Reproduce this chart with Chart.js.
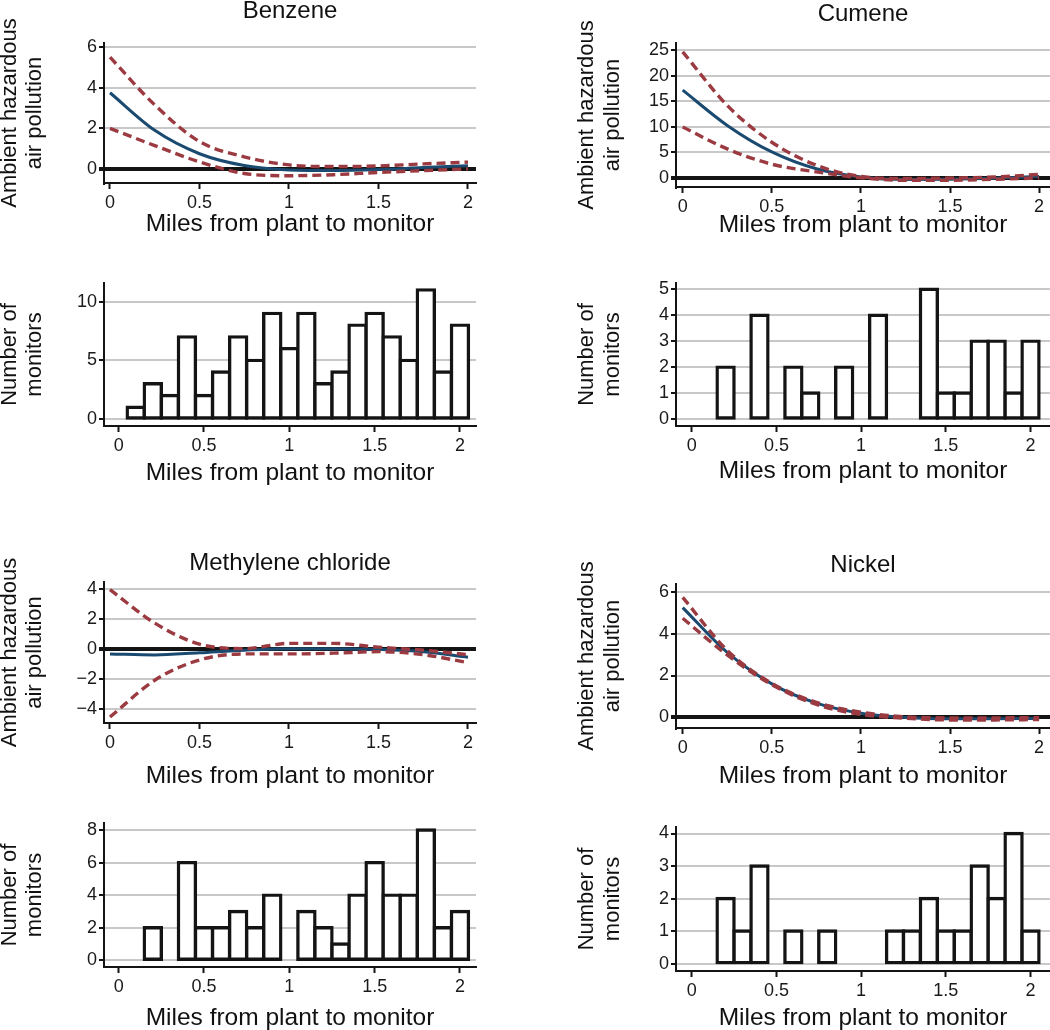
<!DOCTYPE html>
<html>
<head>
<meta charset="utf-8">
<script src="https://cdn.jsdelivr.net/npm/chart.js@4.4.1/dist/chart.umd.min.js"></script>
<style>
  body { margin: 0; background: #fff; }
  #page { position: relative; width: 1050px; height: 1030px; overflow: hidden; background: #fff; }
  #page canvas { position: absolute; }
</style>
</head>
<body>
<div id="page">
  <canvas id="benzeneFit"></canvas>
  <canvas id="benzeneHist"></canvas>
  <canvas id="cumeneFit"></canvas>
  <canvas id="cumeneHist"></canvas>
  <canvas id="methyleneFit"></canvas>
  <canvas id="methyleneHist"></canvas>
  <canvas id="nickelFit"></canvas>
  <canvas id="nickelHist"></canvas>
</div>
<script>
// fitted pollution curves, every quarter mile
const fitMiles = [0, 0.25, 0.5, 0.75, 1, 1.25, 1.5, 1.75, 2];

const benzeneEstimate = [3.75, 1.9, 0.75, 0.17, -0.05, -0.08, -0.03, 0.07, 0.16];
const benzeneUpper = [5.5, 3.15, 1.35, 0.6, 0.2, 0.12, 0.15, 0.25, 0.34];
const benzeneLower = [2.0, 1.15, 0.35, -0.22, -0.33, -0.28, -0.17, -0.08, 0.0];

const cumeneEstimate = [17.2, 10.3, 5.1, 1.8, 0.2, -0.3, -0.25, -0.05, 0.3];
const cumeneUpper = [24.7, 14.2, 7.0, 2.5, 0.3, -0.1, 0.0, 0.2, 0.7];
const cumeneLower = [10.0, 5.7, 2.7, 1.2, 0.05, -0.45, -0.45, -0.25, 0.0];

const methyleneEstimate = [-0.35, -0.42, -0.27, -0.1, 0.0, 0.0, -0.05, -0.2, -0.57];
const methyleneUpper = [3.93, 1.7, 0.3, 0.0, 0.35, 0.35, 0.1, -0.1, -0.4];
const methyleneLower = [-4.55, -2.1, -0.75, -0.35, -0.35, -0.3, -0.2, -0.4, -0.93];

const nickelEstimate = [5.24, 3.1, 1.6, 0.68, 0.2, 0.0, -0.06, -0.06, -0.05];
const nickelUpper = [5.73, 3.2, 1.63, 0.72, 0.25, 0.03, -0.02, -0.02, -0.01];
const nickelLower = [4.73, 2.98, 1.56, 0.62, 0.14, -0.04, -0.12, -0.12, -0.1];

// monitor counts per 0.1 mile bin
const binMiles = [0.1, 0.2, 0.3, 0.4, 0.5, 0.6, 0.7, 0.8, 0.9, 1.0,
                  1.1, 1.2, 1.3, 1.4, 1.5, 1.6, 1.7, 1.8, 1.9, 2.0];
const benzeneCounts = [1, 3, 2, 7, 2, 4, 7, 5, 9, 6, 9, 3, 4, 8, 9, 7, 5, 11, 4, 8];
const cumeneCounts = [0, 2, 0, 4, 0, 2, 1, 0, 2, 0, 4, 0, 0, 5, 1, 1, 3, 3, 1, 3];
const methyleneCounts = [0, 2, 0, 6, 2, 2, 3, 2, 4, 0, 3, 2, 1, 4, 6, 4, 4, 8, 2, 3];
const nickelCounts = [0, 2, 1, 3, 0, 1, 0, 1, 0, 0, 0, 1, 1, 2, 1, 1, 3, 2, 4, 1];

// tick labels
const milesTicks = [0, 0.5, 1, 1.5, 2];
const benzeneTicks = [0, 2, 4, 6];
const cumeneTicks = [0, 5, 10, 15, 20, 25];
const methyleneTicks = [-4, -2, 0, 2, 4];
const nickelTicks = [0, 2, 4, 6];
const benzeneCountTicks = [0, 5, 10];
const cumeneCountTicks = [0, 1, 2, 3, 4, 5];
const methyleneCountTicks = [0, 2, 4, 6, 8];
const nickelCountTicks = [0, 1, 2, 3, 4];

const family = "'Liberation Sans', Arial, Helvetica, sans-serif";
Chart.defaults.font.family = family;
Chart.defaults.color = '#1a1a1a';
Chart.defaults.animation = false;

const ink = '#141414';
const gridGray = '#c8c8c8';
const fitBlue = '#1b4a70';
const bandRed = '#9b3b41';

const titleSize = 24;
const xTitleSize = 24.5;
const yTitleSize = 22;
const tickSize = 18;

const columns = {
  left: { canvasLeft: 0, axisLeft: 104, areaRight: 476, canvasRight: 490, yTitlePad: -3 },
  right: { canvasLeft: 572, axisLeft: 676, areaRight: 1050, canvasRight: 1050, yTitlePad: 2.6 }
};

function fixedTicks(values) {
  return function (scale) {
    scale.ticks = values.map(v => ({ value: v }));
  };
}

function minusSign(v) {
  return String(v).replace('-', '\u2212');
}

function drawPanel(id, box, opts) {
  const col = columns[box.col];
  const canvasTop = Math.round(box.titleMid ? box.titleMid - titleSize / 2 - 2 : box.areaTop - 15);
  const canvasBottom = Math.round(box.xTitleMid + xTitleSize / 2 + 2);
  const width = col.canvasRight - col.canvasLeft;
  const height = canvasBottom - canvasTop;
  const xAxisHeight = box.xTitleMid + xTitleSize / 2 - box.areaBottom;

  const canvas = document.getElementById(id);
  canvas.style.left = col.canvasLeft + 'px';
  canvas.style.top = canvasTop + 'px';
  canvas.width = width;
  canvas.height = height;
  canvas.style.width = width + 'px';
  canvas.style.height = height + 'px';

  let titlePadTop = 0, titlePadBottom = 0, layoutTop = 0;
  if (opts.title) {
    titlePadTop = box.titleMid - titleSize / 2 - canvasTop;
    titlePadBottom = box.areaTop - canvasTop - titlePadTop - titleSize;
  } else {
    layoutTop = box.areaTop - canvasTop;
  }

  const isZero = c => opts.zeroLine && c.tick && c.tick.value === 0;

  new Chart(canvas, {
    type: opts.type,
    data: { datasets: opts.datasets },
    options: {
      responsive: false,
      maintainAspectRatio: false,
      layout: {
        padding: {
          left: 0,
          right: col.canvasRight - col.areaRight,
          top: layoutTop,
          bottom: canvasBottom - (box.areaBottom + xAxisHeight)
        }
      },
      plugins: {
        legend: { display: false },
        tooltip: { enabled: false },
        title: {
          display: !!opts.title,
          text: opts.title || '',
          fullSize: false,
          color: '#111',
          font: { size: titleSize, weight: 'normal', lineHeight: 1 },
          padding: { top: titlePadTop, bottom: titlePadBottom }
        }
      },
      scales: {
        x: {
          type: 'linear',
          min: opts.xMin,
          max: opts.xMax,
          offset: false,
          afterBuildTicks: fixedTicks(milesTicks),
          afterFit: s => { s.height = xAxisHeight; },
          grid: {
            offset: false,
            drawOnChartArea: false,
            drawTicks: true,
            tickLength: 6,
            tickColor: ink,
            tickWidth: 2
          },
          border: { display: true, color: ink, width: 2 },
          ticks: {
            padding: 3,
            color: '#1a1a1a',
            font: { size: tickSize },
            maxRotation: 0,
            callback: minusSign
          },
          title: {
            display: true,
            text: 'Miles from plant to monitor',
            color: '#111',
            font: { size: xTitleSize, lineHeight: 1 },
            padding: { top: 0, bottom: 0 }
          }
        },
        y: {
          type: 'linear',
          min: opts.yMin,
          max: opts.yMax,
          afterBuildTicks: fixedTicks(opts.yTicks),
          afterFit: s => { s.width = col.axisLeft - col.canvasLeft; },
          grid: {
            drawTicks: true,
            tickLength: 5,
            color: c => isZero(c) ? ink : gridGray,
            lineWidth: c => isZero(c) ? 4 : 2,
            tickColor: ink,
            tickWidth: c => isZero(c) ? 4 : 2
          },
          border: { display: true, color: ink, width: 2 },
          ticks: {
            padding: 2,
            color: '#1a1a1a',
            font: { size: tickSize },
            callback: minusSign
          },
          title: {
            display: true,
            text: opts.yTitle,
            color: '#111',
            font: { size: yTitleSize, lineHeight: 1.15 },
            padding: { top: col.yTitlePad, bottom: 0 }
          }
        }
      }
    }
  });
}

function curveSets(estimate, upper, lower) {
  const toPoints = arr => fitMiles.map((m, i) => ({ x: m, y: arr[i] }));
  const band = arr => ({
    data: toPoints(arr),
    borderColor: bandRed,
    borderWidth: 3.4,
    borderDash: [9, 5],
    pointRadius: 0,
    fill: false,
    cubicInterpolationMode: 'monotone'
  });
  return [
    band(upper),
    band(lower),
    {
      data: toPoints(estimate),
      borderColor: fitBlue,
      borderWidth: 3,
      pointRadius: 0,
      fill: false,
      cubicInterpolationMode: 'monotone'
    }
  ];
}

function countSet(counts) {
  return [{
    data: binMiles.map((m, i) => ({ x: m, y: counts[i] === 0 ? null : counts[i] })),
    backgroundColor: '#fff',
    borderColor: ink,
    borderWidth: 3.4,
    borderSkipped: false,
    inflateAmount: 1.7,
    barPercentage: 1,
    categoryPercentage: 1
  }];
}

const pollutionTitle = ['Ambient hazardous', 'air pollution'];
const monitorTitle = ['Number of', 'monitors'];

drawPanel('benzeneFit',
  { col: 'left', areaTop: 43, areaBottom: 183, titleMid: 11.8, xTitleMid: 224.5 },
  { type: 'line', title: 'Benzene', zeroLine: true, yTitle: pollutionTitle,
    xMin: -0.0335, xMax: 2.0447, yMin: -0.689, yMax: 6.197, yTicks: benzeneTicks,
    datasets: curveSets(benzeneEstimate, benzeneUpper, benzeneLower) });

drawPanel('benzeneHist',
  { col: 'left', areaTop: 283, areaBottom: 426, xTitleMid: 473.2 },
  { type: 'bar', yTitle: monitorTitle,
    xMin: -0.086, xMax: 2.094, yMin: -0.597, yMax: 11.59, yTicks: benzeneCountTicks,
    datasets: countSet(benzeneCounts) });

drawPanel('cumeneFit',
  { col: 'right', areaTop: 43, areaBottom: 187, titleMid: 14.7, xTitleMid: 224.8 },
  { type: 'line', title: 'Cumene', zeroLine: true, yTitle: pollutionTitle,
    xMin: -0.0376, xMax: 2.061, yMin: -1.76, yMax: 26.43, yTicks: cumeneTicks,
    datasets: curveSets(cumeneEstimate, cumeneUpper, cumeneLower) });

drawPanel('cumeneHist',
  { col: 'right', areaTop: 283, areaBottom: 426, xTitleMid: 471.5 },
  { type: 'bar', yTitle: monitorTitle,
    xMin: -0.0927, xMax: 2.115, yMin: -0.27, yMax: 5.24, yTicks: cumeneCountTicks,
    datasets: countSet(cumeneCounts) });

drawPanel('methyleneFit',
  { col: 'left', areaTop: 582, areaBottom: 723, titleMid: 563.7, xTitleMid: 776.5 },
  { type: 'line', title: 'Methylene chloride', zeroLine: true, yTitle: pollutionTitle,
    xMin: -0.0335, xMax: 2.0447, yMin: -4.948, yMax: 4.437, yTicks: methyleneTicks,
    datasets: curveSets(methyleneEstimate, methyleneUpper, methyleneLower) });

drawPanel('methyleneHist',
  { col: 'left', areaTop: 823, areaBottom: 967, xTitleMid: 1018.2 },
  { type: 'bar', yTitle: monitorTitle,
    xMin: -0.086, xMax: 2.094, yMin: -0.41, yMax: 8.43, yTicks: methyleneCountTicks,
    datasets: countSet(methyleneCounts) });

drawPanel('nickelFit',
  { col: 'right', areaTop: 584, areaBottom: 728, titleMid: 565, xTitleMid: 776.5 },
  { type: 'line', title: 'Nickel', zeroLine: true, yTitle: pollutionTitle,
    xMin: -0.0376, xMax: 2.061, yMin: -0.505, yMax: 6.367, yTicks: nickelTicks,
    datasets: curveSets(nickelEstimate, nickelUpper, nickelLower) });

drawPanel('nickelHist',
  { col: 'right', areaTop: 827, areaBottom: 971, xTitleMid: 1018.2 },
  { type: 'bar', yTitle: monitorTitle,
    xMin: -0.0927, xMax: 2.115, yMin: -0.228, yMax: 4.2, yTicks: nickelCountTicks,
    datasets: countSet(nickelCounts) });
</script>
</body>
</html>
